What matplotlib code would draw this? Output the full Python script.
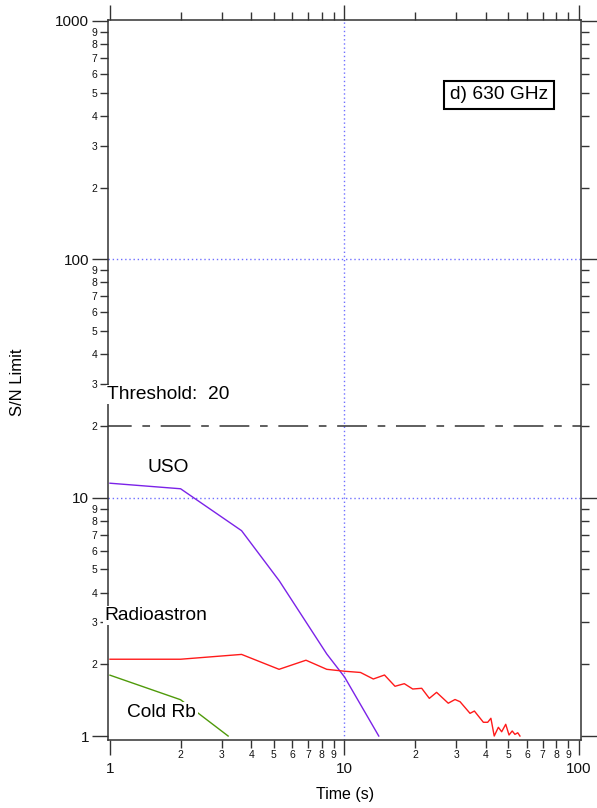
import numpy as np
import matplotlib
matplotlib.use('Agg')
import matplotlib.pyplot as plt
from matplotlib.ticker import LogLocator, FixedLocator, FuncFormatter

plt.rcParams['font.family'] = ['Liberation Sans', 'DejaVu Sans']

# datos (tiempo en s, limite S/N)
uso_t = [1, 2, 3.64, 5.27, 8.4, 10, 14.0]
uso_sn = [11.5, 10.9, 7.27, 4.48, 2.21, 1.77, 1.0]

radio_t = [1, 2, 3.64, 5.26, 6.85, 8.4, 10, 11.7, 13.27, 14.81, 16.42, 17.99,
           19.54, 21.34, 23.0, 24.7, 27.7, 29.6, 31.1, 34.3, 35.8, 39.1, 40.8,
           42.1, 43.5, 45.3, 46.8, 48.7, 50.3, 51.9, 53.3, 54.8, 56.0]
radio_sn = [2.10, 2.10, 2.20, 1.905, 2.08, 1.905, 1.87, 1.848, 1.735, 1.803,
            1.617, 1.658, 1.575, 1.586, 1.439, 1.525, 1.373, 1.423, 1.393,
            1.245, 1.273, 1.142, 1.142, 1.187, 1.0, 1.088, 1.042, 1.12, 1.01,
            1.05, 1.016, 1.032, 1.0]

coldrb_t = [1, 2, 3.19]
coldrb_sn = [1.80, 1.42, 1.0]

threshold = 20
grid_x = [10]
grid_y = [10, 100]

x_major = [1, 10, 100]
y_major = [1, 10, 100, 1000]

fig = plt.figure(figsize=(5.97, 8.08), dpi=100)
ax = fig.add_axes([108 / 597, 68.5 / 808, 473 / 597, 719.5 / 808])
ax.set_xscale('log')
ax.set_yscale('log')
ax.set_xlim(0.9806, 101.98)
ax.set_ylim(0.967, 1009.7)

# lineas de grilla punteadas azules
for gx in grid_x:
    ax.axvline(gx, color='#6f6fff', lw=1.0, ls=(0, (1, 2)), zorder=1)
for gy in grid_y:
    ax.axhline(gy, color='#6f6fff', lw=1.0, ls=(0, (1, 2)), zorder=1)

ax.axhline(threshold, color='#333333', lw=1.1, ls=(4, (19.5, 7, 5, 7)), zorder=2)

ax.plot(uso_t, uso_sn, color='#7b22e8', lw=1.0, zorder=2)
ax.plot(radio_t, radio_sn, color='#ff1a1a', lw=1.0, zorder=2)
ax.plot(coldrb_t, coldrb_sn, color='#4f9a0a', lw=1.0, zorder=2)

# textos
box = dict(facecolor='white', edgecolor='none', boxstyle='square,pad=0.05')
ax.text(0.97, 27, 'Threshold:  20', fontsize=13.8, va='center', ha='left',
        bbox=box, zorder=5)
ax.text(1.44, 13.4, 'USO', fontsize=13.8, va='center', ha='left')
ax.text(0.943, 3.19, 'Radioastron', fontsize=13.8, va='center', ha='left',
        bbox=box, zorder=5)
ax.text(1.18, 1.26, 'Cold Rb', fontsize=13.8, va='center', ha='left',
        bbox=dict(facecolor='white', edgecolor='none', boxstyle='square,pad=0.1'),
        zorder=5)
ax.text(45.6, 490, 'd) 630 GHz', fontsize=13.8, va='center', ha='center',
        bbox=dict(facecolor='white', edgecolor='black', linewidth=1.5,
                  boxstyle='square,pad=0.3'))

# ejes estilo Igor
for s in ax.spines.values():
    s.set_color('#333333')
    s.set_linewidth(1.1)

ax.xaxis.set_major_locator(FixedLocator(x_major))
ax.yaxis.set_major_locator(FixedLocator(y_major))
ax.xaxis.set_minor_locator(LogLocator(base=10, subs=range(2, 10), numticks=20))
ax.yaxis.set_minor_locator(LogLocator(base=10, subs=range(2, 10), numticks=20))

major_fmt = FuncFormatter(lambda v, p: '%g' % v)
minor_fmt = FuncFormatter(lambda v, p: str(int(round(v / 10 ** np.floor(np.log10(v) + 1e-9)))))
ax.xaxis.set_major_formatter(major_fmt)
ax.yaxis.set_major_formatter(major_fmt)
ax.xaxis.set_minor_formatter(minor_fmt)
ax.yaxis.set_minor_formatter(minor_fmt)

ax.tick_params(which='both', direction='out', top=True, right=True,
               labeltop=False, labelright=False, color='#333333', width=1.0,
               labelcolor='#111111')
ax.xaxis.set_tick_params(which='major', length=11, pad=5, labelsize=11)
ax.xaxis.set_tick_params(which='minor', length=5.8, pad=1.5, labelsize=7.5)
ax.yaxis.set_tick_params(which='major', length=11.5, pad=2, labelsize=11)
ax.yaxis.set_tick_params(which='minor', length=5.8, pad=2, labelsize=7.5)

fig.text(345 / 597, 1 - 795 / 808, 'Time (s)', fontsize=11.5, ha='center', va='center')
fig.text(17 / 597, 1 - 382 / 808, 'S/N Limit', fontsize=12, ha='center', va='center',
         rotation=90)

fig.savefig('out.png', dpi=100)
